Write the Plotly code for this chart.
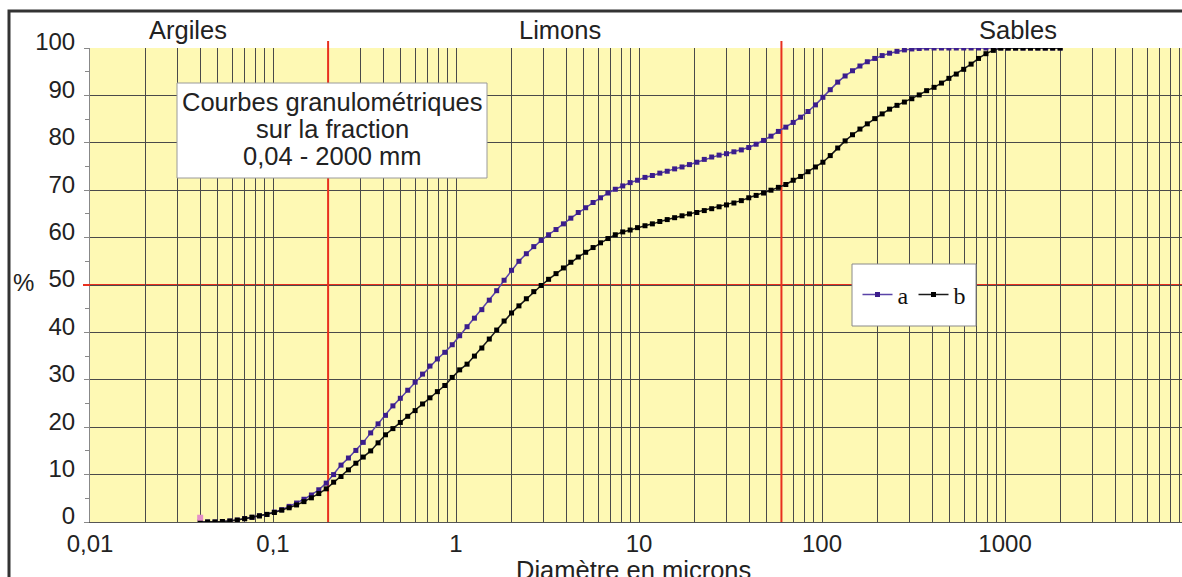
import plotly.graph_objects as go

# ---------------- data ----------------
DIAM_UM = [
    0.0400, 0.0439, 0.0482, 0.0529, 0.0581, 0.0638, 0.0700, 0.0768, 0.0843, 0.0926,
    0.1017, 0.1116, 0.1225, 0.1345, 0.1476, 0.1621, 0.1779, 0.1953, 0.2144, 0.2353,
    0.2583, 0.2836, 0.3113, 0.3417, 0.3751, 0.4118, 0.4520, 0.4962, 0.5447, 0.5979,
    0.6564, 0.7205, 0.7910, 0.8683, 0.9534, 1.047, 1.149, 1.261, 1.384, 1.520,
    1.668, 1.831, 2.011, 2.207, 2.423, 2.660, 2.920, 3.205, 3.519, 3.863,
    4.240, 4.655, 5.110, 5.610, 6.158, 6.760, 7.421, 8.147, 8.943, 9.815,
    10.78, 11.83, 12.99, 14.26, 15.65, 17.18, 18.86, 20.70, 22.73, 24.95,
    27.39, 30.06, 33.00, 36.23, 39.77, 43.65, 47.92, 52.61, 57.75, 63.40,
    69.59, 76.40, 83.86, 92.06, 101.1, 110.9, 121.8, 133.7, 146.7, 161.1,
    176.8, 194.1, 213.1, 233.9, 256.8, 281.9, 309.5, 339.7, 372.9, 409.4,
    449.4, 493.3, 541.6, 594.5, 652.6, 716.4, 786.5, 863.4, 947.8, 1040,
    1142, 1254, 1377, 1511, 1659, 1821, 2000,
]

PCT_A = [
    0, 0, 0, 0.1, 0.2, 0.4, 0.7, 1.0, 1.3, 1.6,
    2.1, 2.6, 3.3, 4.0, 4.8, 5.7, 6.8, 8.2, 10.0, 12.0,
    13.5, 15.1, 16.8, 18.8, 20.7, 22.5, 24.5, 26.1, 27.8, 29.5,
    31.2, 32.9, 34.4, 35.8, 37.4, 39.3, 41.2, 43.0, 44.8, 46.8,
    48.8, 51.0, 53.1, 55.0, 56.6, 58.1, 59.4, 60.6, 61.7, 62.9,
    64.1, 65.3, 66.3, 67.4, 68.4, 69.4, 70.2, 70.9, 71.6, 72.1,
    72.7, 73.1, 73.6, 74.0, 74.5, 74.9, 75.4, 75.9, 76.5, 77.0,
    77.4, 77.7, 78.1, 78.5, 79.0, 79.7, 80.5, 81.4, 82.4, 83.3,
    84.3, 85.4, 86.6, 88.0, 89.6, 91.2, 92.8, 94.1, 95.2, 96.2,
    97.1, 97.8, 98.4, 98.9, 99.3, 99.6, 99.8, 99.9, 100, 100,
    100, 100, 100, 100, 100, 100, 100, 100, 100, 100,
    100, 100, 100, 100, 100, 100, 100,
]

PCT_B = [
    0, 0, 0, 0.1, 0.2, 0.4, 0.7, 1.0, 1.3, 1.6,
    2.0, 2.5, 3.0, 3.6, 4.3, 5.1, 6.0, 7.0, 8.4, 9.6,
    11.0, 12.4, 13.7, 15.0, 16.7, 18.4, 19.7, 21.0, 22.3, 23.5,
    24.9, 26.2, 27.5, 28.8, 30.5, 32.1, 33.3, 35.0, 36.7, 38.6,
    40.5, 42.4, 44.1, 45.6, 47.1, 48.6, 49.9, 51.2, 52.4, 53.6,
    54.8, 55.9, 56.9, 57.9, 58.9, 59.8, 60.6, 61.2, 61.6, 62.1,
    62.5, 62.9, 63.4, 63.8, 64.2, 64.6, 65.0, 65.3, 65.7, 66.1,
    66.5, 66.9, 67.3, 67.8, 68.4, 68.9, 69.4, 70.0, 70.6, 71.2,
    72.1, 72.9, 73.9, 74.9, 75.9, 77.3, 78.9, 80.4, 81.7, 82.9,
    84.0, 85.1, 86.1, 87.1, 87.9, 88.6, 89.3, 90.1, 91.0, 91.7,
    92.6, 93.6, 94.5, 95.5, 96.6, 97.8, 98.8, 99.5, 100, 100,
    100, 100, 100, 100, 100, 100, 100,
]

STRAY_X = [0.04]
STRAY_Y = [0.9]

DECADES = [0.01, 0.1, 1, 10, 100, 1000]
DECADE_LABELS = ["0,01", "0,1", "1", "10", "100", "1000"]
Y_TICKS = [0, 10, 20, 30, 40, 50, 60, 70, 80, 90, 100]
Y_LABELS = ["0", "10", "20", "30", "40", "50", "60", "70", "80", "90", "100"]

CLASS_NAMES = ["Argiles", "Limons", "Sables"]
CLASS_LIMITS = [0.2, 60]
MID_LEVEL = 50
BOX_LINES = ["Courbes granulométriques", "sur la fraction", "0,04 - 2000 mm"]
X_TITLE = "Diamètre en microns"
Y_TITLE = "%"

# ---------------- layout geometry ----------------
W, H = 1182, 577
L, R, T, B = 90, 0, 48, 55
PW, PH = W - L - R, H - T - B


def px(x):
    return (x - L) / PW


def py(y):
    return (H - B - y) / PH


FONT = "Arial, Liberation Sans, sans-serif"
SERIF = "Times New Roman, Liberation Serif, serif"
GRID = "#4a4a4a"
RED = "#e8301f"

# gridline positions: every 1..9 multiple of each decade
grid_vals, grid_text = [], []
for d, lab in zip(DECADES + [10000], DECADE_LABELS + ["10000"]):
    for m in range(1, 10):
        grid_vals.append(d * m)
        grid_text.append(lab if m == 1 else "")

fig = go.Figure()

fig.add_trace(go.Scatter(
    x=DIAM_UM, y=PCT_A, name="a", mode="lines+markers",
    line=dict(color="#5a43a8", width=1.5),
    marker=dict(symbol="square", size=5, color="#3b1d8c"),
))
fig.add_trace(go.Scatter(
    x=DIAM_UM, y=PCT_B, name="b", mode="lines+markers",
    line=dict(color="#1a1a1a", width=1.5),
    marker=dict(symbol="square", size=5, color="#000000"),
))
fig.add_trace(go.Scatter(
    x=STRAY_X, y=STRAY_Y, mode="markers", showlegend=False,
    marker=dict(symbol="square", size=6, color="#e58fc8"),
))

shapes = []
# outer frame
shapes.append(dict(type="rect", xref="paper", yref="paper",
                   x0=px(9), x1=px(1260), y0=py(640), y1=py(11),
                   line=dict(color="#333333", width=3), layer="above"))
# red reference lines (inside plot: between grid and data; stub above the plot top)
for lim in CLASS_LIMITS:
    shapes.append(dict(type="line", xref="x", yref="y",
                       x0=lim, x1=lim, y0=0, y1=100,
                       line=dict(color=RED, width=2), layer="between"))
    shapes.append(dict(type="line", xref="x", yref="paper",
                       x0=lim, x1=lim, y0=1, y1=py(41),
                       line=dict(color=RED, width=2), layer="above"))
shapes.append(dict(type="line", xref="paper", yref="y",
                   x0=0, x1=1, y0=MID_LEVEL, y1=MID_LEVEL,
                   line=dict(color=RED, width=2), layer="between"))
shapes.append(dict(type="line", xref="paper", yref="y",
                   x0=px(83), x1=0, y0=MID_LEVEL, y1=MID_LEVEL,
                   line=dict(color=RED, width=2), layer="above"))
# text box
shapes.append(dict(type="rect", xref="paper", yref="paper",
                   x0=px(177), x1=px(487), y0=py(178), y1=py(83),
                   fillcolor="white", line=dict(color="#9a9a9a", width=1), layer="above"))
# legend box
shapes.append(dict(type="rect", xref="paper", yref="paper",
                   x0=px(852), x1=px(976), y0=py(326), y1=py(264),
                   fillcolor="white", line=dict(color="#8a8a8a", width=1), layer="above"))

annotations = []
for name, xc in zip(CLASS_NAMES, [188, 560, 1018]):
    annotations.append(dict(text=name, xref="paper", yref="paper", x=px(xc), y=py(30),
                            xanchor="center", yanchor="middle", showarrow=False,
                            font=dict(family=FONT, size=25.5, color="#222")))
for line, yc in zip(BOX_LINES, [102, 129, 156]):
    annotations.append(dict(text=line, xref="paper", yref="paper", x=px(332), y=py(yc),
                            xanchor="center", yanchor="middle", showarrow=False,
                            font=dict(family=FONT, size=25.5, color="#222")))
annotations.append(dict(text=X_TITLE, xref="paper", yref="paper", x=px(633), y=py(554),
                        xanchor="center", yanchor="top", showarrow=False,
                        font=dict(family=FONT, size=25.5, color="#222")))
annotations.append(dict(text=Y_TITLE, xref="paper", yref="paper", x=px(23), y=py(282),
                        xanchor="center", yanchor="middle", showarrow=False,
                        font=dict(family=FONT, size=24, color="#222")))

fig.update_layout(
    width=W, height=H,
    margin=dict(l=L, r=R, t=T, b=B),
    paper_bgcolor="white",
    plot_bgcolor="#fef9b4",
    font=dict(family=FONT, size=24, color="#222"),
    shapes=shapes,
    annotations=annotations,
    legend=dict(orientation="h", x=px(914), y=py(295), xanchor="center", yanchor="middle",
                bgcolor="rgba(0,0,0,0)", font=dict(family=SERIF, size=24, color="#111"),
                itemwidth=30),
    xaxis=dict(type="log", range=[-2, 3.967], tickvals=grid_vals, ticktext=grid_text,
               showgrid=True, gridcolor=GRID, gridwidth=1, ticks="",
               showline=True, linecolor="#555", linewidth=1, zeroline=False,
               tickfont=dict(family=FONT, size=24, color="#222")),
    yaxis=dict(range=[0, 100], tickvals=Y_TICKS, ticktext=Y_LABELS,
               showgrid=True, gridcolor=GRID, gridwidth=1,
               ticks="outside", ticklen=5, tickcolor="#888", ticklabelstandoff=4,
               ticklabelshift=-6,
               minor=dict(dtick=5, ticks="outside", ticklen=4, tickcolor="#888", showgrid=False),
               showline=True, linecolor="#888", linewidth=1, zeroline=False,
               tickfont=dict(family=FONT, size=24, color="#222")),
)

fig.write_html(
    "out.html",
    config={"displayModeBar": False},
    post_script="document.body.style.margin='0';document.body.style.overflow='hidden';",
)
